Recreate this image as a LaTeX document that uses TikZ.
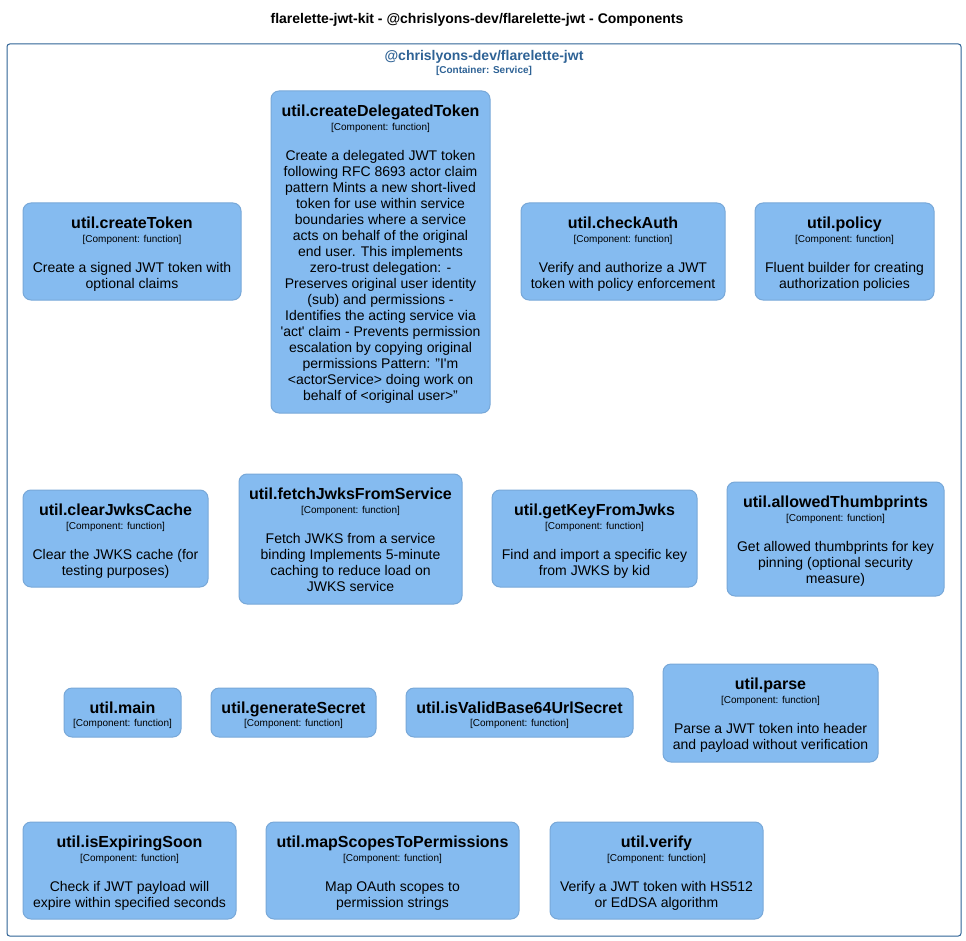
\documentclass[tikz,border=0pt]{standalone}
\usepackage{fontspec}
\setmainfont{Liberation Sans}
\usetikzlibrary{calc,fit}

\definecolor{compfill}{HTML}{85BBF0}
\definecolor{compline}{HTML}{78A8D8}
\definecolor{contline}{HTML}{2E6295}

\tikzset{
  compbox/.style={draw=compline, fill=compfill, line width=0.75pt,
    rounded corners=6pt, inner sep=0pt},
  contbox/.style={draw=contline, line width=0.75pt, rounded corners=2pt,
    inner sep=0pt},
  comptitle/.style={font=\fontsize{12}{14}\selectfont\bfseries, inner sep=0pt,
    text height=0.72em, text depth=0pt},
  compkind/.style={font=\fontsize{7.5}{9}\selectfont, inner sep=0pt,
    text height=0.72em, text depth=0pt},
  compdesc/.style={font=\fontsize{10.5}{12}\selectfont, align=center,
    inner sep=0pt, anchor=north},
  conttitle/.style={font=\fontsize{10.5}{12}\selectfont\bfseries, text=contline,
    inner sep=0pt, text height=0.72em, text depth=0pt},
  contkind/.style={font=\fontsize{7.5}{9}\selectfont\bfseries, text=contline,
    inner sep=0pt, text height=0.72em, text depth=0pt},
  pagetitle/.style={font=\fontsize{10.5}{12}\selectfont\bfseries,
    inner sep=0pt, text height=0.72em, text depth=0pt},
}

% component with a description
\newcommand\fncomp[7]{%
  \node[compbox, fit={(#2,#3) (#4,#5)}] (#1) {};
  \node[comptitle] (#1-title) at ($(#1.north)+(0,21)$) {#6};
  \node[compkind] (#1-kind) at ($(#1.north)+(0,35)$) {[Component: function]};
  \node[compdesc] (#1-desc) at ($(#1.north)+(0,60)$) {#7};
}
% component without a description
\newcommand\fncompbare[6]{%
  \node[compbox, fit={(#2,#3) (#4,#5)}] (#1) {};
  \node[comptitle] (#1-title) at ($(#1.north)+(0,21)$) {#6};
  \node[compkind] (#1-kind) at ($(#1.north)+(0,34)$) {[Component: function]};
}
\newcommand\sq{\textquotesingle}

\begin{document}
\begin{tikzpicture}[x=0.75pt, y=-0.75pt]
\useasboundingbox (0,0) rectangle (966,941);

\node[pagetitle] (title) at (477,19)
  {flarelette-jwt-kit - @chrislyons-dev/flarelette-jwt - Components};

\node[contbox, fit={(7,44) (961,936)}] (service) {};
\node[conttitle] (service-title) at (484,56) {@chrislyons-dev/flarelette-jwt};
\node[contkind] (service-kind) at (484,69) {[Container: Service]};

% row 1
\fncomp{createToken}{23}{203}{241}{300}{util.createToken}
  {Create a signed JWT token with\\optional claims}
\fncomp{createDelegatedToken}{271}{91}{490}{413}{util.createDelegatedToken}
  {Create a delegated JWT token\\following RFC 8693 actor claim\\pattern Mints a new short-lived\\token for use within service\\boundaries where a service\\acts on behalf of the original\\end user. This implements\\zero-trust delegation: -\\Preserves original user identity\\(sub) and permissions -\\Identifies the acting service via\\\sq act\sq{} claim - Prevents permission\\escalation by copying original\\permissions Pattern: "I\sq m\\<actorService> doing work on\\behalf of <original user>"}
\fncomp{checkAuth}{521}{203}{725}{300}{util.checkAuth}
  {Verify and authorize a JWT\\token with policy enforcement}
\fncomp{policy}{755}{203}{934}{300}{util.policy}
  {Fluent builder for creating\\authorization policies}

% row 2
\fncomp{clearJwksCache}{23}{490}{208}{587}{util.clearJwksCache}
  {Clear the JWKS cache (for\\testing purposes)}
\fncomp{fetchJwksFromService}{239}{474}{462}{604}{util.fetchJwksFromService}
  {Fetch JWKS from a service\\binding Implements 5-minute\\caching to reduce load on\\JWKS service}
\fncomp{getKeyFromJwks}{492}{490}{697}{587}{util.getKeyFromJwks}
  {Find and import a specific key\\from JWKS by kid}
\fncomp{allowedThumbprints}{727}{482}{944}{596}{util.allowedThumbprints}
  {Get allowed thumbprints for key\\pinning (optional security\\measure)}

% row 3
\fncompbare{main}{64}{688}{181}{737}{util.main}
\fncompbare{generateSecret}{211}{688}{376}{737}{util.generateSecret}
\fncompbare{isValidBase64UrlSecret}{406}{688}{633}{737}{util.isValidBase64UrlSecret}
\fncomp{parse}{663}{664}{878}{762}{util.parse}
  {Parse a JWT token into header\\and payload without verification}

% row 4
\fncomp{isExpiringSoon}{23}{822}{236}{919}{util.isExpiringSoon}
  {Check if JWT payload will\\expire within specified seconds}
\fncomp{mapScopesToPermissions}{266}{822}{519}{919}{util.mapScopesToPermissions}
  {Map OAuth scopes to\\permission strings}
\fncomp{verify}{550}{822}{763}{919}{util.verify}
  {Verify a JWT token with HS512\\or EdDSA algorithm}
\end{tikzpicture}
\end{document}
